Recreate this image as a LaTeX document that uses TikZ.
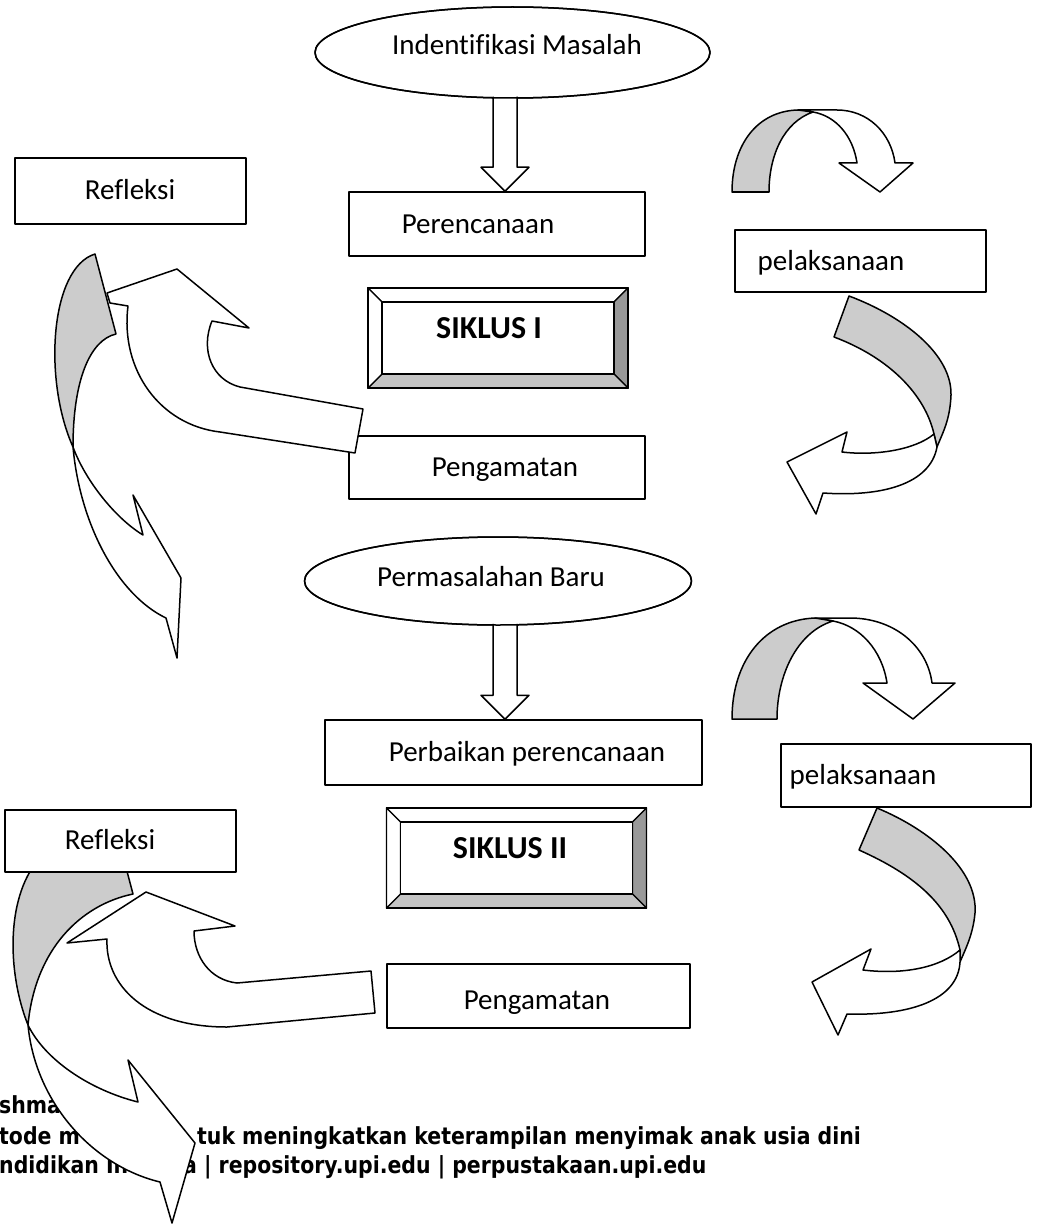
\documentclass[tikz,border=0pt]{standalone}
\usepackage{fontspec}
\setmainfont{Carlito}[Ligatures=CommonOff]
\newfontfamily\footfont{DejaVu Sans}
\usetikzlibrary{shapes.geometric,calc}
\definecolor{bandgray}{HTML}{CCCCCC}
\definecolor{bevdark}{HTML}{999999}
\definecolor{bevmid}{HTML}{C4C4C4}
\newcommand{\ft}[1]{\scalebox{0.87}[1]{#1}}
\newcommand{\mybevel}[1]{%
  \draw[bev, fill=white] (#1.north west) -- (#1.north east) -- ($(#1.north east)+(-14,14)$) -- ($(#1.north west)+(14,14)$) -- cycle;
  \draw[bev, fill=bevdark] (#1.north east) -- (#1.south east) -- ($(#1.south east)+(-14,-14)$) -- ($(#1.north east)+(-14,14)$) -- cycle;
  \draw[bev, fill=bevmid] (#1.south east) -- (#1.south west) -- ($(#1.south west)+(14,-14)$) -- ($(#1.south east)+(-14,-14)$) -- cycle;
  \draw[bev, fill=white] (#1.south west) -- (#1.north west) -- ($(#1.north west)+(14,14)$) -- ($(#1.south west)+(14,-14)$) -- cycle;
  \draw[bev, fill=white] ($(#1.north west)+(14,14)$) rectangle ($(#1.south east)+(-14,-14)$);
  \draw[line width=1.6pt] (#1.north west) rectangle (#1.south east);
}
\begin{document}
\begin{tikzpicture}[x=1pt,y=-1pt,line join=round,
  box/.style={draw, fill=white, line width=1.5pt, inner sep=0pt},
  ell/.style={ellipse, draw, fill=white, line width=1.5pt, inner sep=0pt},
  lbl/.style={font=\fontsize{29}{35}\selectfont, anchor=base, inner sep=0pt},
  blbl/.style={font=\bfseries\fontsize{32}{38}\selectfont, anchor=base, inner sep=0pt},
  foot/.style={anchor=base west, inner sep=0pt, font=\footfont\bfseries\fontsize{23.5}{28}\selectfont},
  rib/.style={draw, fill=white, line width=1.5pt},
  bk/.style={draw, fill=bandgray, line width=1.5pt},
  blk/.style={draw, fill=white, line width=1.5pt},
  bev/.style={line width=1.2pt},
  sik/.style={draw, line width=1.5pt, inner sep=0pt, outer sep=0pt, minimum width=260, minimum height=100}
]
\useasboundingbox (0,0) rectangle (1041,1225);
\fill[white] (0,0) rectangle (1041,1225);

% footer text (partly covered)
\node[foot] (f1) at (-1,1113) {\ft{shma}};
\node[foot] (f2a) at (-1,1144) {\ft{tode m}};
\node[foot] (f2b) at (197,1144) {\ft{tuk meningkatkan keterampilan menyimak anak usia dini}};
\node[foot] (f3a) at (-1,1173) {\ft{ndidikan In}};
\node[foot] (f3b) at (183,1173) {\ft{a | repository.upi.edu | perpustakaan.upi.edu}};

% box under the left arrow
\node[box, minimum width=296, minimum height=63] (peng1) at (497,467.5) {};

% ---------- top right curved arrow 1
\draw[rib] (798,110) -- (837,110) .. controls (868,110) and (891,133) .. (895,163) -- (913,163) -- (880,192) -- (839,163) -- (857,163) .. controls (853,136) and (836,116) .. (813,112) -- cycle;
\draw[bk] (732,192) .. controls (732,145) and (757,111) .. (798,110) -- (813,112) .. controls (784,122) and (769,155) .. (769,192) -- cycle;

% ---------- top right curved arrow 2
\draw[rib] (815,618) -- (850,618) .. controls (893,618) and (927,645) .. (932,683) -- (955,683) -- (913,719) -- (863,683) -- (887,683) .. controls (882,650) and (860,626) .. (833,621) -- cycle;
\draw[bk] (732,719) .. controls (732,660) and (765,620) .. (815,618) -- (833,621) .. controls (797,632) and (777,675) .. (777,719) -- cycle;

% ---------- right curved arrow 1
\draw[bk] (849,296) .. controls (905,317) and (952,355) .. (951,395) .. controls (950,420) and (943,432) .. (937,447) -- (934,434) .. controls (925,395) and (890,358) .. (834,337) -- cycle;
\draw[rib] (934,434) .. controls (915,450) and (875,456) .. (842,452) -- (847,432) -- (787,462) -- (816,514) -- (823,493) .. controls (880,497) and (930,485) .. (937,447) -- cycle;

% ---------- right curved arrow 2
\draw[bk] (877,808) .. controls (930,830) and (978,870) .. (975,913) .. controls (973,935) and (965,950) .. (960,962) -- (960,950) .. controls (950,905) and (915,875) .. (859,850) -- cycle;
\draw[rib] (960,950) .. controls (940,967) and (905,975) .. (863,970) -- (871,949) -- (812,982) -- (838,1035) -- (847,1014) .. controls (910,1016) and (958,1000) .. (960,962) -- cycle;

% ---------- left curved arrow 1
\draw[rib] (363,409) -- (240,387) .. controls (212,380) and (200,350) .. (212,321) -- (249,328) -- (177,269) -- (107,293) -- (110,303) -- (128,306) .. controls (120,370) and (160,425) .. (220,432) -- (355,453) -- cycle;
\draw[bk] (95,254) -- (116,334) .. controls (90,340) and (73,380) .. (73,447) .. controls (43,380) and (50,268) .. (95,254) -- cycle;
\draw[rib] (73,447) .. controls (80,525) and (118,595) .. (166,618) -- (177,658) -- (181,578) -- (133,495) -- (143,535) .. controls (115,518) and (85,480) .. (73,447) -- cycle;

% ---------- left curved arrow 2
\draw[rib] (371,971) -- (237,983) .. controls (210,980) and (194,957) .. (194,931) -- (235,926) -- (146,892) -- (67,943) -- (107,939) .. controls (105,985) and (145,1027) .. (227,1027) -- (375,1013) -- cycle;
\draw[bk] (38,860) -- (124,860) -- (133,894) .. controls (80,905) and (35,950) .. (28,1025) .. controls (8,975) and (5,900) .. (38,860) -- cycle;
\draw[rib] (28,1025) .. controls (35,1100) and (90,1165) .. (160,1182) -- (172,1223) -- (195,1143) -- (128,1060) -- (138,1102) .. controls (90,1090) and (45,1060) .. (28,1025) -- cycle;

% ---------- boxes
\node[box, minimum width=231, minimum height=66] (refl1) at (130.5,191) {};
\node[box, minimum width=296, minimum height=64] (plan) at (497,224) {};
\node[box, minimum width=251, minimum height=62] (pel1) at (860.5,261) {};
\node[box, minimum width=377, minimum height=65] (perb) at (513.5,752.5) {};
\node[box, minimum width=250, minimum height=63] (pel2) at (906,775.5) {};
\node[box, minimum width=231, minimum height=62] (refl2) at (120.5,841) {};
\node[box, minimum width=303, minimum height=64] (peng2) at (538.5,996) {};

% ---------- block arrows
\coordinate (ax) at (505,0);
\path (ax|-plan.north) coordinate (d1b) (ax|-perb.north) coordinate (d2b);
\node[ell, minimum width=395, minimum height=91] (ell1) at (512.5,52.5) {};
\node[ell, minimum width=387, minimum height=88] (ell2) at (498,581) {};
\path (ax|-ell1.south) coordinate (d1t) (ax|-ell2.south) coordinate (d2t);
\draw[blk] ($(d1t)+(-12,-2)$) -- ($(d1b)+(-12,-24)$) -- ($(d1b)+(-24,-24)$) -- (d1b) -- ($(d1b)+(24,-24)$) -- ($(d1b)+(12,-24)$) -- ($(d1t)+(12,-2)$);
\draw[blk] ($(d2t)+(-12,-2)$) -- ($(d2b)+(-12,-24)$) -- ($(d2b)+(-24,-24)$) -- (d2b) -- ($(d2b)+(24,-24)$) -- ($(d2b)+(12,-24)$) -- ($(d2t)+(12,-2)$);
\draw[line width=1.5pt] (ell1.center) ellipse [x radius=197.5, y radius=45.5];
\draw[line width=1.5pt] (ell2.center) ellipse [x radius=193.5, y radius=44];

% ---------- SIKLUS boxes
\node[sik] (s1) at (498,338) {};
\mybevel{s1}
\node[sik] (s2) at (516.5,858) {};
\mybevel{s2}

% ---------- labels
\node[lbl] (t1) at (517,55) {Indentifikasi Masalah};
\node[lbl] (t2) at (130,199) {Refleksi};
\node[lbl] (t3) at (478,233) {Perencanaan};
\node[lbl] (t4) at (831,270) {pelaksanaan};
\node[blbl] (t5) at (489,338) {SIKLUS I};
\node[lbl] (t6) at (505,476) {Pengamatan};
\node[lbl] (t7) at (491,586) {Permasalahan Baru};
\node[lbl] (t8) at (527,761) {Perbaikan perencanaan};
\node[lbl] (t9) at (863,784) {pelaksanaan};
\node[lbl] (t10) at (110,849) {Refleksi};
\node[blbl] (t11) at (510,858) {SIKLUS II};
\node[lbl] (t12) at (537,1009) {Pengamatan};
\end{tikzpicture}
\end{document}
